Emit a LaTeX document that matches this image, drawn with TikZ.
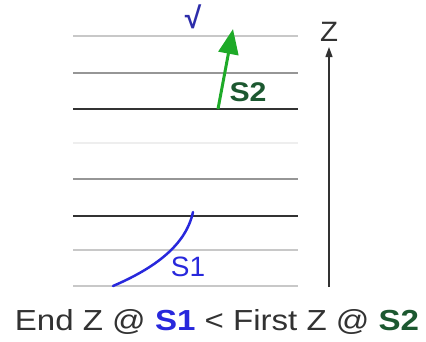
\documentclass[tikz,border=0pt]{standalone}
\usepackage{fontspec}
\setmainfont{Liberation Sans}
\usepackage{tikz}
\usepackage{xcolor}
\usetikzlibrary{arrows.meta,positioning}
\definecolor{zsblue}{RGB}{40,40,220}
\definecolor{zscheck}{RGB}{45,45,170}
\definecolor{zsgreen}{RGB}{30,170,40}
\definecolor{zsdkgreen}{RGB}{28,88,48}
\definecolor{zstext}{RGB}{50,50,50}
\definecolor{zslight}{RGB}{200,200,200}
\definecolor{zsfaint}{RGB}{238,238,238}
\definecolor{zsmid}{RGB}{150,150,150}
\definecolor{zsdark}{RGB}{50,50,50}
\tikzset{
  zslinelight/.style={draw=zslight, line width=1.3pt},
  zslinefaint/.style={draw=zsfaint, line width=1.3pt},
  zslinemid/.style={draw=zsmid, line width=2.4pt},
  zslinedark/.style={draw=zsdark, line width=1.3pt},
  zslab/.style={inner sep=0pt, font=\fontsize{28}{30}\selectfont},
  zsarrgreen/.style={-{Triangle[length=25pt, width=20pt]}, line width=3pt, draw=zsgreen},
  zsaxis/.style={-{Triangle[length=10pt, width=7pt]}, line width=1.2pt, draw=zsdark},
  zscurve/.style={line width=2.5pt, draw=zsblue, line cap=round}
}
\begin{document}
\begin{tikzpicture}[x=1pt, y=-1pt]
  \useasboundingbox (0,0) rectangle (426,341);
  % levels
  \draw[zslinelight] (73,36) -- (298,36);
  \draw[zslinemid] (73,73) -- (298,73);
  \draw[zslinedark] (73,109) -- (298,109);
  \draw[zslinefaint] (73,143) -- (298,143);
  \draw[zslinemid] (73,179) -- (298,179);
  \draw[zslinedark] (73,216) -- (298,216);
  \draw[zslinelight] (73,250) -- (298,250);
  \draw[zslinelight] (73,286) -- (298,286);
  % S2
  \coordinate (s2start) at (218,109);
  \coordinate (s2end) at (233,29);
  \draw[zsarrgreen] (s2start) -- (s2end);
  \node[zslab, text=zsdkgreen, font=\fontsize{27}{30}\selectfont\bfseries, xscale=1.12, transform shape] (s2lab) at (248,92) {S2};
  \node[zslab, text=zscheck, font=\fontsize{30}{32}\selectfont\bfseries] (check) at (193,17) {√};
  % S1
  \coordinate (s1start) at (113,286);
  \coordinate (s1end) at (193,212);
  \draw[zscurve] (s1start) .. controls (155,268) and (186,245) .. (s1end);
  \node[zslab, text=zsblue] (s1lab) at (188,267) {S1};
  % axis
  \coordinate (zfoot) at (329,287);
  \node[zslab, text=zstext, xscale=1.05, transform shape] (zlab) at (329,32) {Z};
  \draw[zsaxis] (zfoot) -- (zlab.south |- 0,47);
  % caption
  \node[zslab, text=zstext, font=\fontsize{29}{32}\selectfont, xscale=1.14, transform shape] (caption) at (217,322)
    {End Z @ \textcolor{zsblue}{\bfseries S1} < First Z @ \textcolor{zsdkgreen}{\bfseries S2}};
\end{tikzpicture}
\end{document}
